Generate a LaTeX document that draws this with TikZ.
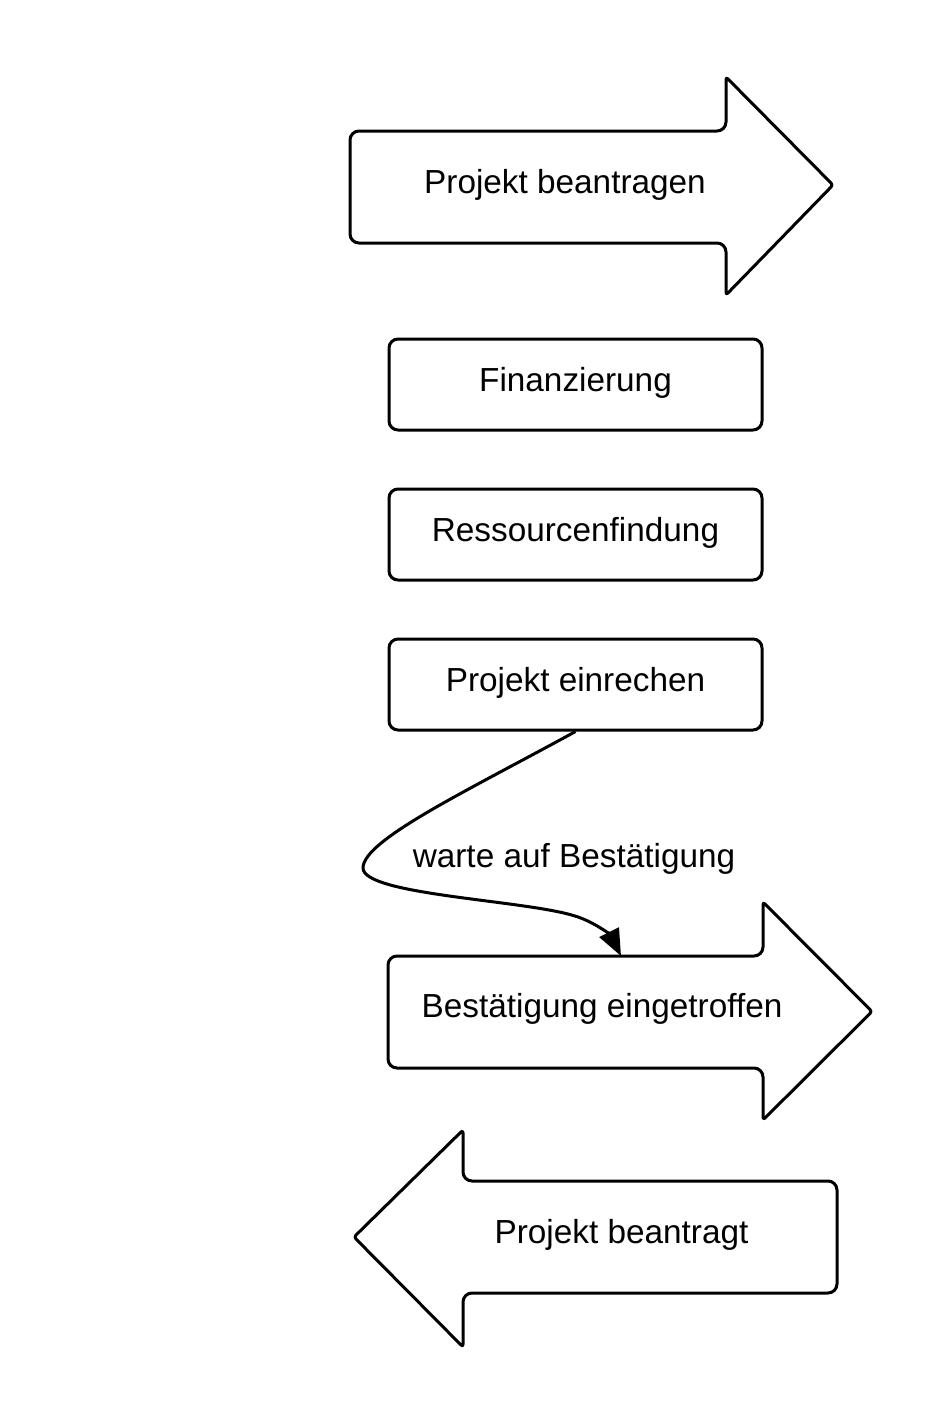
\documentclass[tikz,border=0pt]{standalone}
\usepackage{fontspec}
\setmainfont{Liberation Sans}
\usetikzlibrary{arrows.meta}
\begin{document}
\begin{tikzpicture}[x=0.75pt,y=-0.75pt,
  shapeline/.style={draw=black,line width=2.25pt,line join=round,rounded corners=6.75pt,fill=white},
  stepbox/.style={shapeline,rectangle,minimum width=279.75pt,minimum height=68.25pt,inner sep=0pt,
    font=\fontsize{25pt}{30pt}\selectfont,text height=18pt,text depth=8pt},
  label/.style={inner sep=0pt,anchor=base,font=\fontsize{25pt}{30pt}\selectfont},
  conn/.style={draw=black,line width=2.25pt,-{Triangle[length=20pt,width=16pt]}}
]
\useasboundingbox (0,0) rectangle (951,1425);
\fill[white] (0,0) rectangle (951,1425);

% top arrow
\draw[shapeline] (350,131) -- (726,131) [rounded corners=2pt] -- (726,77) -- (833,185) -- (726,295)
  [rounded corners=6.75pt] -- (726,243) -- (350,243) -- cycle;
\node[label] (pb) at (565,193) {Projekt beantragen};

% boxes
\node[stepbox] (fin) at (575.5,384.5) {Finanzierung};
\node[stepbox] (res) at (575.5,534.5) {Ressourcenfindung};
\node[stepbox] (pe)  at (575.5,684.5) {Projekt einrechen};

% confirmation arrow
\draw[shapeline] (388,956) -- (763,956) [rounded corners=2pt] -- (763,902) -- (872,1011.5) -- (763,1120)
  [rounded corners=6.75pt] -- (763,1068) -- (388,1068) -- cycle;
\node[label] (be) at (602,1017) {Bestätigung eingetroffen};
\coordinate (beTop) at (621,956);

% bottom arrow
\draw[shapeline] (837,1181) -- (463,1181) [rounded corners=2pt] -- (463,1130) -- (354,1237) -- (463,1347)
  [rounded corners=6.75pt] -- (463,1293) -- (837,1293) -- cycle;
\node[label] (pbt) at (621.5,1243) {Projekt beantragt};

% connector
\draw[conn] (pe.south) .. controls (467,791) and (363,840) .. (363,868)
  .. controls (363,895) and (525,900) .. (575,916)
  .. controls (595,922) and (611,936) .. (beTop);
\node[label] (wait) at (574,867) {warte auf Bestätigung};
\end{tikzpicture}
\end{document}
